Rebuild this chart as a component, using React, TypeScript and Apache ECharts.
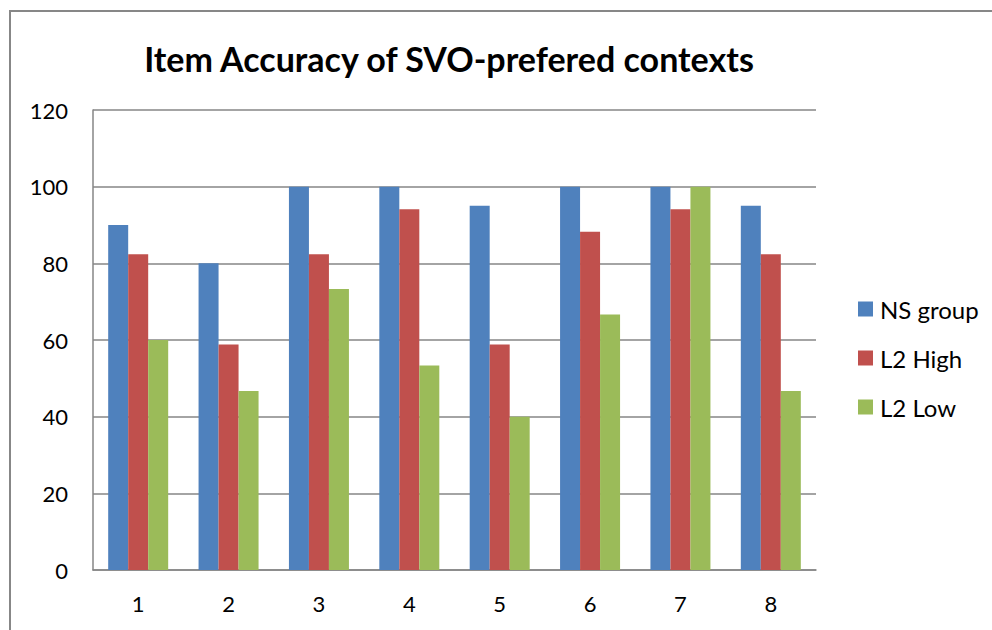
import React, { useEffect, useRef } from "react";
import * as echarts from "echarts";

const categories = ["1", "2", "3", "4", "5", "6", "7", "8"];
const nsGroup = [90, 80, 100, 100, 95, 100, 100, 95];
const l2High = [82.35, 58.82, 82.35, 94.12, 58.82, 88.24, 94.12, 82.35];
const l2Low = [60, 46.67, 73.33, 53.33, 40, 66.67, 100, 46.67];
const seriesNames = ["NS group", "L2 High", "L2 Low"];
const colors = ["#4F81BD", "#C0504D", "#9BBB59"];
const titleText = "Item Accuracy of SVO-prefered contexts";

const FONT = "Lato, Calibri, sans-serif";

export default function App() {
  const ref = useRef<HTMLDivElement>(null);
  useEffect(() => {
    if (!ref.current) return;
    const chart = echarts.init(ref.current, undefined, { renderer: "svg" });
    const values = [nsGroup, l2High, l2Low];
    chart.setOption({
      animation: false,
      backgroundColor: "#ffffff",
      textStyle: { fontFamily: FONT },
      title: {
        text: titleText,
        left: 444,
        textAlign: "center",
        top: 36,
        textStyle: { fontFamily: FONT, fontSize: 34, fontWeight: "bold", color: "#000" },
      },
      graphic: [
        {
          type: "rect",
          shape: { x: 10, y: 11, width: 1000, height: 700 },
          style: { fill: "none", stroke: "#878787", lineWidth: 2 },
          silent: true,
        },
      ],
      legend: {
        orient: "vertical",
        left: 853,
        top: 292,
        icon: "rect",
        itemWidth: 15,
        itemHeight: 15,
        itemGap: 25,
        data: seriesNames,
        textStyle: { fontFamily: FONT, fontSize: 24, color: "#000", padding: [0, 0, 0, 2] },
      },
      grid: { left: 93, top: 110, right: 176, bottom: 60, containLabel: false },
      xAxis: {
        type: "category",
        data: categories,
        axisLine: { lineStyle: { color: "#868686", width: 1.5 } },
        axisTick: { show: false },
        axisLabel: { fontFamily: FONT, fontSize: 22, color: "#000", margin: 22 },
      },
      yAxis: {
        type: "value",
        min: 0,
        max: 120,
        interval: 20,
        axisLine: { show: true, lineStyle: { color: "#868686", width: 1.5 } },
        axisTick: { show: false },
        splitLine: { lineStyle: { color: "#868686", width: 1.5 } },
        axisLabel: { fontFamily: FONT, fontSize: 22, color: "#000", margin: 25 },
      },
      series: seriesNames.map((name, i) => ({
        name,
        type: "bar",
        data: values[i],
        barWidth: 20,
        barGap: "0%",
        itemStyle: { color: colors[i] },
      })),
    });
    return () => chart.dispose();
  }, []);
  return (
    <div
      ref={ref}
      style={{ position: "fixed", left: 0, top: 0, width: 992, height: 630 }}
    />
  );
}
